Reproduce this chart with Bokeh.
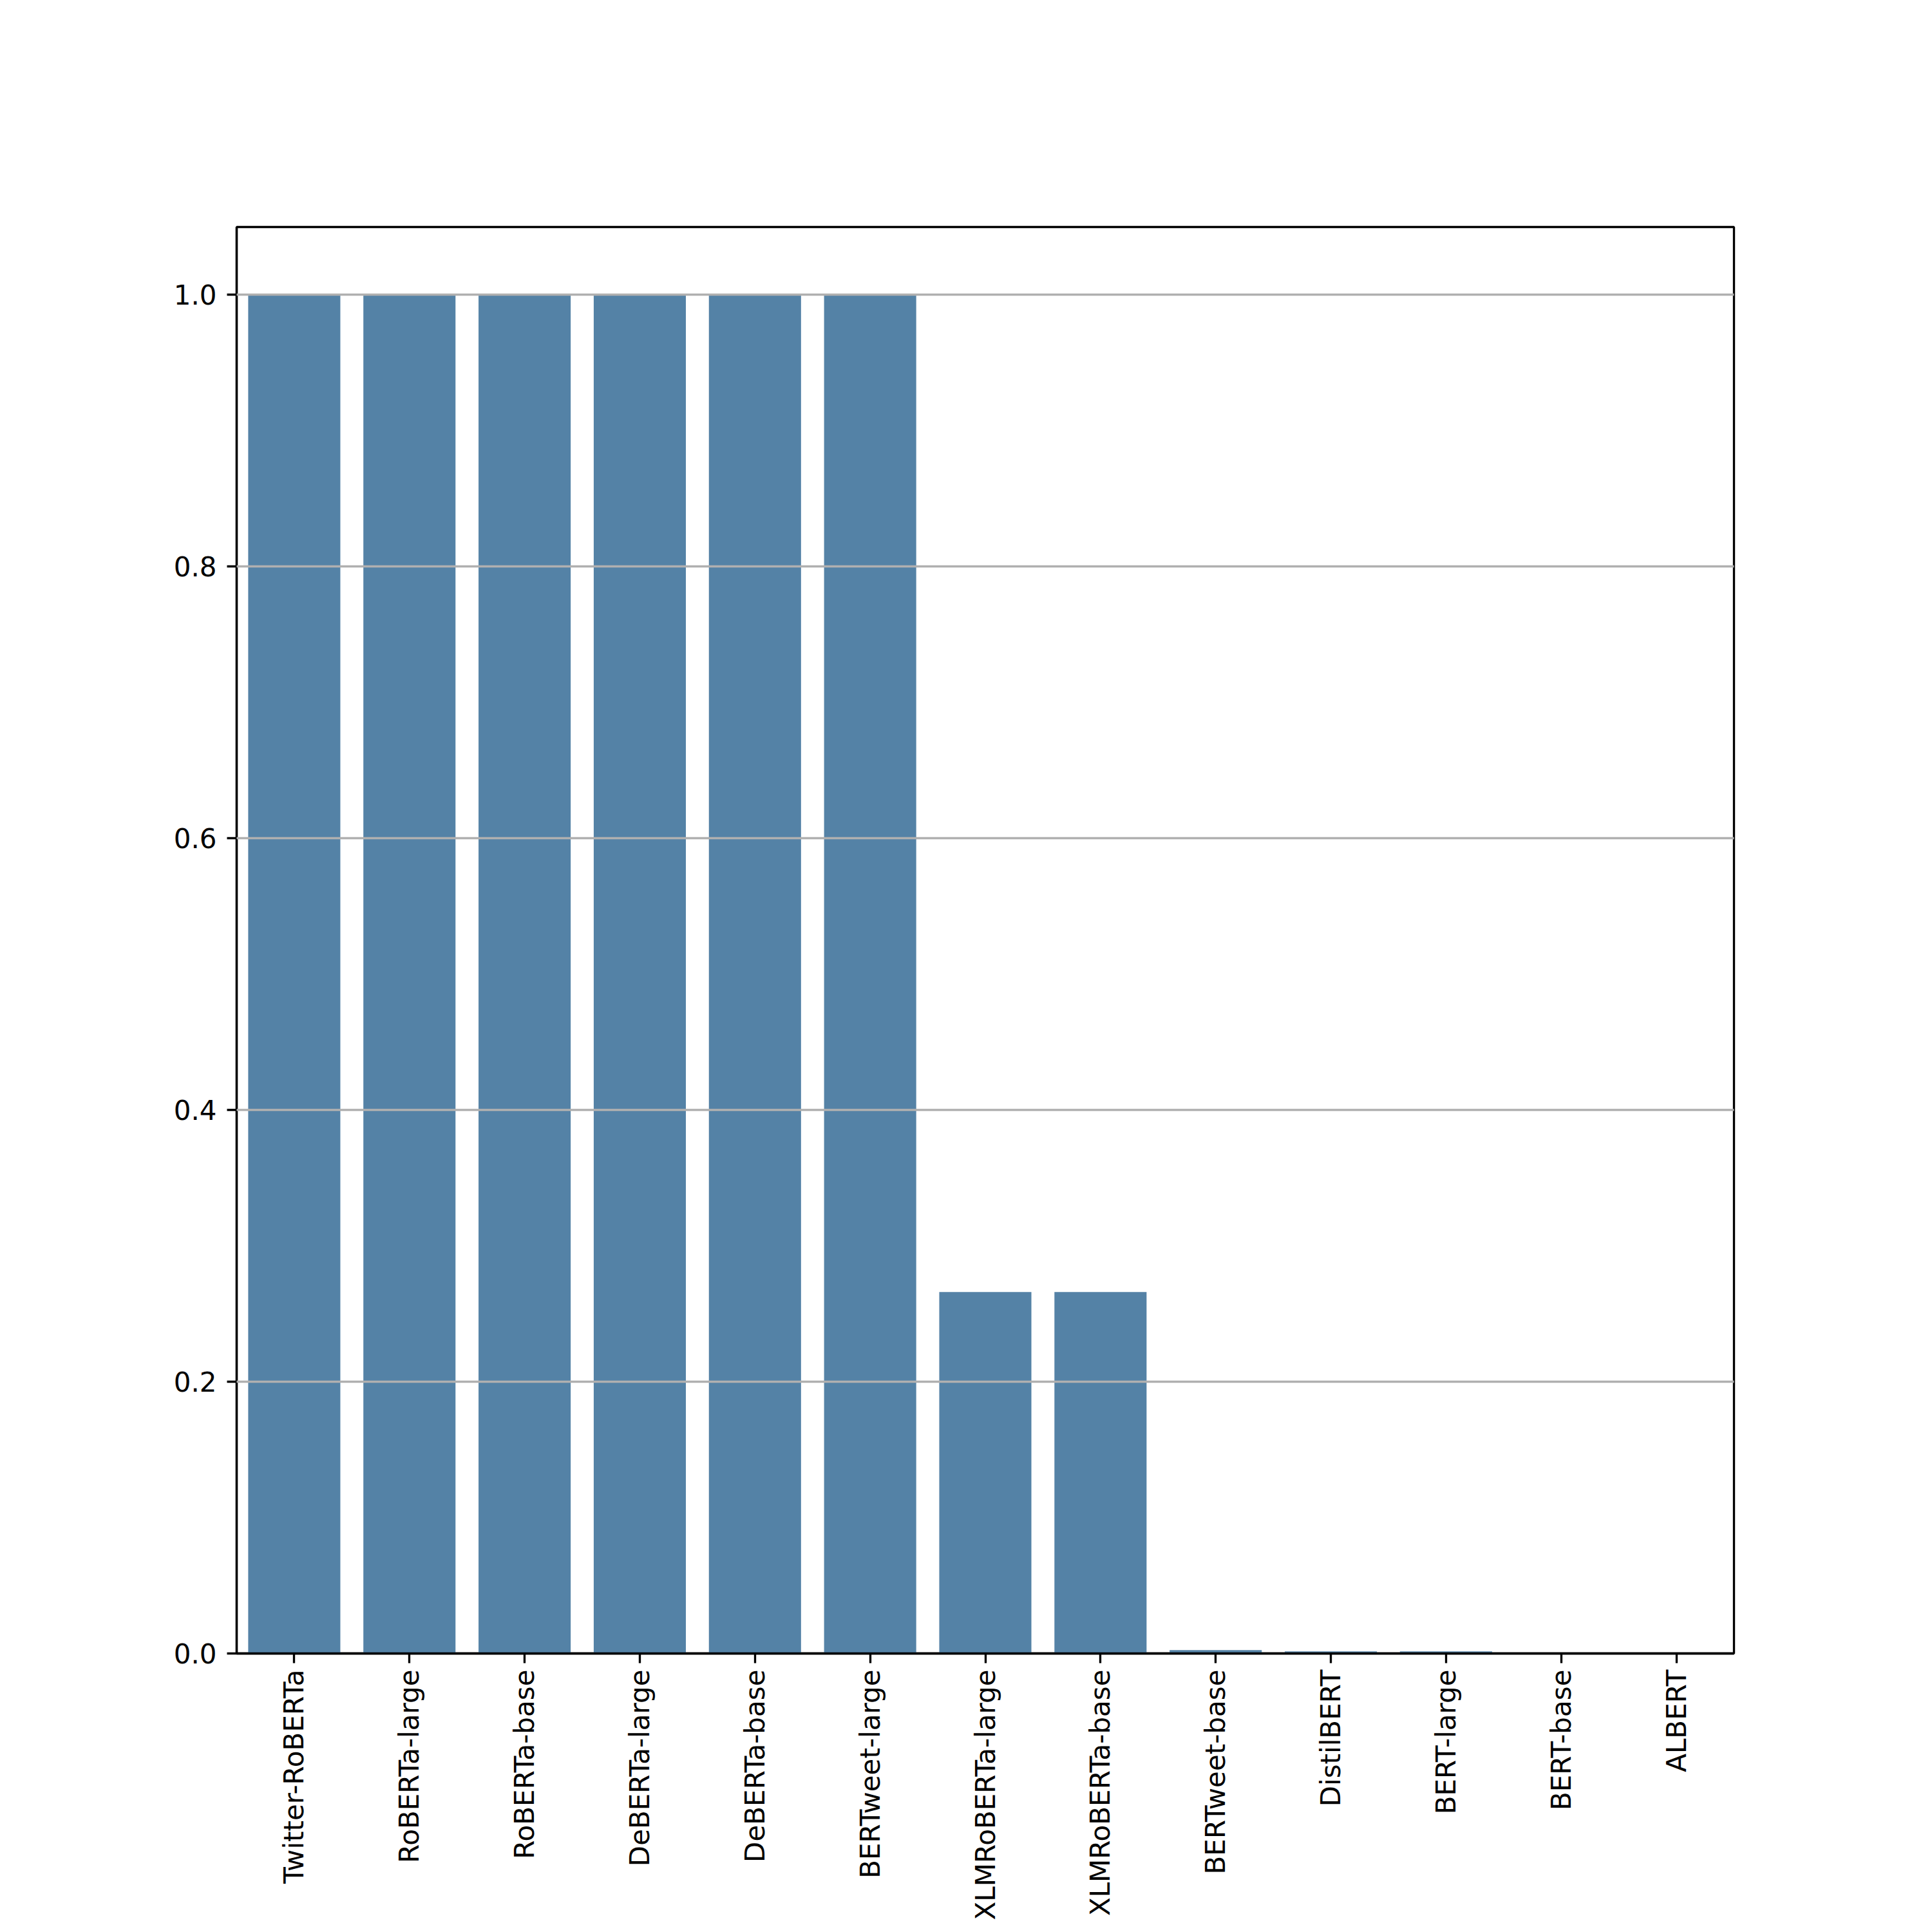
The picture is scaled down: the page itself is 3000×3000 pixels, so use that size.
from bokeh.plotting import figure
from bokeh.models import FactorRange, Range1d, FixedTicker, CustomJSTickFormatter, ColumnDataSource
from bokeh.embed import file_html
from bokeh.resources import INLINE
import math

models = ["Twitter-RoBERTa", "RoBERTa-large", "RoBERTa-base", "DeBERTa-large",
          "DeBERTa-base", "BERTweet-large", "XLMRoBERTa-large", "XLMRoBERTa-base",
          "BERTweet-base", "DistilBERT", "BERT-large", "BERT-base", "ALBERT"]
scores = [1.0, 1.0, 1.0, 1.0, 1.0, 1.0, 0.266, 0.266, 0.0025, 0.0015, 0.0015, 0.0, 0.0]
y_ticks = [0.0, 0.2, 0.4, 0.6, 0.8, 1.0]

src = ColumnDataSource(data=dict(model=models, score=scores))

p = figure(width=2984, height=2984, x_range=FactorRange(*models), y_range=Range1d(0, 1.05),
           output_backend="svg", toolbar_location=None,
           min_border_left=367, min_border_right=292, min_border_top=352, min_border_bottom=10)

p.vbar(x="model", top="score", width=0.8, source=src, fill_color="#5482a6", line_color=None)

lw = 3.33
p.outline_line_color = "black"
p.outline_line_width = lw
p.outline_line_alpha = 1.0

p.xgrid.visible = False
p.ygrid.grid_line_color = "#b0b0b0"
p.ygrid.grid_line_width = lw
p.ygrid.level = "annotation"
p.ygrid.ticker = FixedTicker(ticks=y_ticks)

p.yaxis.ticker = FixedTicker(ticks=y_ticks)
p.yaxis.formatter = CustomJSTickFormatter(code="return tick.toFixed(1);")

for ax in (p.xaxis[0], p.yaxis[0]):
    ax.axis_line_color = "black"
    ax.axis_line_width = lw
    ax.major_tick_line_color = "black"
    ax.major_tick_line_width = lw
    ax.major_tick_out = 15
    ax.major_tick_in = 0
    ax.minor_tick_line_color = None
    ax.major_label_text_font = "DejaVu Sans"
    ax.major_label_text_font_size = "42px"
    ax.major_label_text_color = "black"

p.yaxis.major_label_standoff = 16
p.xaxis.major_label_standoff = 10
p.xaxis.major_label_orientation = math.pi / 2

open("out.html", "w").write(file_html(p, INLINE))
